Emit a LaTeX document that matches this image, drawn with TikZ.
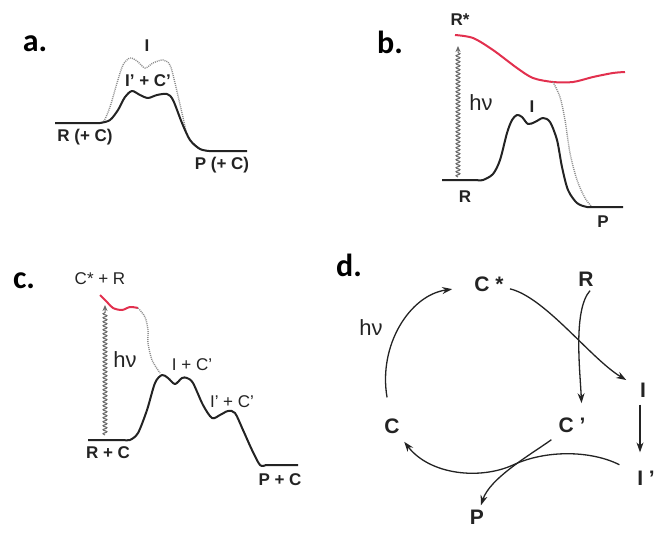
\documentclass[tikz,border=0pt]{standalone}
\usepackage{fontspec}
\setmainfont{Liberation Sans}
\newfontfamily\panelfont{Carlito}
\usetikzlibrary{arrows.meta, decorations.pathmorphing}
\definecolor{inkgray}{RGB}{35, 35, 35}
\definecolor{excited}{RGB}{226, 48, 78}
\definecolor{relax}{RGB}{140, 140, 140}
\definecolor{photongray}{RGB}{105, 105, 105}

\begin{document}
\begin{tikzpicture}[
    x=0.5pt, y=-0.5pt,
    pnl/.style={font=\panelfont\bfseries\fontsize{16}{18}\selectfont,
                inner sep=0pt},
    lbl/.style={font=\bfseries\fontsize{8.5}{10}\selectfont,
                inner sep=0pt, text=inkgray},
    lblr/.style={font=\fontsize{8.5}{10}\selectfont,
                 inner sep=0pt, text=inkgray},
    hv/.style={font=\fontsize{11}{13}\selectfont,
               inner sep=0pt, text=inkgray},
    spc/.style={font=\bfseries\fontsize{10.5}{12}\selectfont,
                inner sep=2pt, text=inkgray},
    ground/.style={line width=1pt, color=inkgray, line join=round},
    upper/.style={line width=1pt, color=excited},
    decay/.style={line width=0.7pt, color=relax,
                  dash pattern=on 0.5pt off 0.5pt},
    photon/.style={line width=0.5pt, color=photongray,
                   -{Stealth[length=3pt, width=2.5pt]}, decorate,
                   decoration={snake, amplitude=1pt,
                   segment length=2pt, post length=3pt}},
    arr/.style={line width=0.65pt, color=inkgray,
                -{Stealth[length=5pt, width=3.5pt]}},
  ]
  \useasboundingbox (0,0) rectangle (654,537);

  % a. ground-state profile only
  \node[pnl] (tagA) at (35,44) {a.};
  \draw[decay] plot[smooth] coordinates {(100,123) (104,121) (110,107)
    (117,83) (123,65) (130,58) (137,61) (145,68) (153,63) (163,60)
    (170,65) (175,83) (182,113) (188,137) (198,148) (209,151)};
  \draw[ground] (55,123) -- plot[smooth] coordinates {(92,123) (100,123)
    (110,120) (118,110) (125,97) (132,91) (140,95) (148,98) (157,95)
    (167,94) (173,100) (182,123) (190,140) (200,149) (209,151)}
    -- (247,151);
  \node[lbl] (aI) at (147,46) {I};
  \node[lbl] (aIC) at (148,81) {I' + C'};
  \node[lbl] (aR) at (85,137) {R (+ C)};
  \node[lbl] (aP) at (222,165) {P (+ C)};

  % b. direct excitation of R
  \node[pnl] (tagB) at (390,42) {b.};
  \draw[upper] plot[smooth] coordinates {(455,35) (473,38) (493,50)
    (517,68) (533,78) (553,82) (573,82) (593,77) (613,73) (625,72)};
  \draw[decay] plot[smooth] coordinates {(553,82) (560,97) (565,120)
    (570,153) (577,180) (585,198) (592,207)};
  \draw[ground] (442,180) -- plot[smooth] coordinates {(476,180)
    (483,180) (493,174) (500,160) (507,133) (512,120) (517,115)
    (522,117) (528,124) (535,122) (543,118) (550,122) (557,140)
    (562,167) (568,190) (577,203) (587,207) (594,207)} -- (623,207);
  \draw[photon] (458,177) -- (458,46);
  \node[lbl] (bRs) at (460,20) {R*};
  \node[hv] (bhv) at (481,103) {hν};
  \node[lbl] (bI) at (532,107) {I};
  \node[lbl] (bR) at (465,197) {R};
  \node[lbl] (bP) at (603,222) {P};

  % c. excitation of the catalyst
  \node[pnl] (tagC) at (24,281) {c.};
  \draw[upper] plot[smooth] coordinates {(100,295) (107,302) (113,308)
    (122,310) (130,307) (138,308)};
  \draw[decay] plot[smooth] coordinates {(138,308) (145,317) (148,330)
    (148,343) (152,360) (160,373)};
  \draw[ground] (88,440) -- plot[smooth] coordinates {(124,440)
    (130,440) (138,433) (147,410) (155,383) (162,375) (168,378)
    (175,384) (182,378) (187,378) (193,383) (203,405) (212,418)
    (220,415) (228,411) (235,413) (243,430) (252,450) (260,465)
    (266,465)} -- (298,465);
  \draw[photon] (105,435) -- (105,305);
  \node[lblr] (cCR) at (100,279) {C* + R};
  \node[hv] (chv) at (125,360) {hν};
  \node[lblr] (cIC) at (192,365) {I + C'};
  \node[lblr] (cIpC) at (232,402) {I' + C'};
  \node[lbl] (cRC) at (108,453) {R + C};
  \node[lbl] (cPC) at (280,480) {P + C};

  % d. catalytic cycle
  \node[pnl] (tagD) at (349,265) {d.};
  \node[spc] (cs) at (489,284) {C *};
  \node[spc] (r) at (586,279) {R};
  \node[spc] (i) at (643,390) {I};
  \node[spc] (cp) at (572,425) {C '};
  \node[spc] (ip) at (646,478) {I '};
  \node[spc] (c) at (392,426) {C};
  \node[spc] (p) at (477,517) {P};
  \node[hv] (dhv) at (371,328) {hν};
  \draw[arr, shorten <=8.5pt, shorten >=9pt]
    (c) .. controls (378,345) and (410,295) .. (cs);
  \draw[arr, shorten <=1pt, shorten >=5.5pt]
    (cs) .. controls (545,297) and (591,359) .. (i);
  \draw[arr, shorten >=5pt]
    ([xshift=2pt]r.south) .. controls (573,310) and (580,370)
    .. ([xshift=5pt]cp.north);
  \draw[arr, shorten <=1.5pt, shorten >=7pt]
    ([xshift=-1.5pt]i.south) -- ([xshift=-3pt]ip.north);
  \draw[arr, shorten <=7.5pt, shorten >=2.5pt]
    (ip) .. controls (590,450) and (545,450) .. (513,465)
    .. controls (480,480) and (430,475) .. (c);
  \draw[arr, shorten <=2.5pt]
    (cp) .. controls (530,455) and (490,478) .. (p);
\end{tikzpicture}
\end{document}
